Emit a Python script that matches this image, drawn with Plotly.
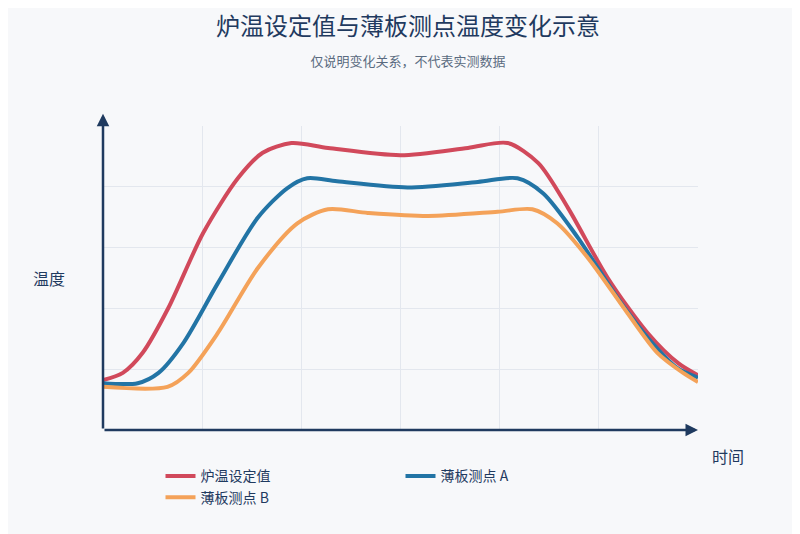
import plotly.graph_objects as go

x_red = [0, 2.0, 4.0, 6.6, 10.1, 13.6, 16.1, 19.0, 22.7, 30.0, 36.8, 40.8, 43.9, 46.9, 50.9, 54.9, 58.0, 60]
y_red = [8.2, 9.4, 12.7, 20.1, 32.4, 41.4, 45.6, 47.2, 46.4, 45.2, 46.4, 47.2, 43.9, 36.5, 25.0, 16.0, 11.0, 9.0]
x_blue = [0, 3.5, 5.6, 8.1, 11.6, 15.6, 18.6, 20.6, 23.6, 30.7, 37.8, 41.8, 44.4, 47.9, 51.9, 55.4, 57.9, 60]
y_blue = [7.7, 7.7, 9.4, 14.3, 24.2, 34.9, 39.8, 41.4, 40.9, 39.9, 40.8, 41.4, 38.9, 31.6, 21.7, 14.3, 10.2, 8.6]
x_org = [0, 6.5, 8.6, 11.6, 15.6, 19.6, 22.7, 26.7, 32.8, 39.8, 43.3, 45.8, 48.9, 52.9, 55.9, 58.5, 60]
y_org = [7.1, 7.1, 9.4, 16.0, 26.6, 34.0, 36.3, 35.7, 35.2, 35.9, 36.3, 34.0, 28.3, 19.2, 12.7, 9.4, 7.9]
names = ["炉温设定值", "薄板测点 A", "薄板测点 B"]
colors = ["#d1495b", "#2274a5", "#f4a259"]

font = "Noto Sans CJK SC"
fig = go.Figure()
for xs, ys, n, c in [(x_red, y_red, names[0], colors[0]), (x_blue, y_blue, names[1], colors[1]), (x_org, y_org, names[2], colors[2])]:
    fig.add_trace(go.Scatter(x=xs, y=ys, name=n, mode="lines",
                             line=dict(color=c, width=4, shape="spline", smoothing=0.8)))

fig.update_layout(
    width=800, height=534, paper_bgcolor="#f7f8fa", plot_bgcolor="#f7f8fa",
    margin=dict(l=95, r=110, t=118, b=112),
    font=dict(family=font, color="#1f3a5f"),
    title=dict(text="炉温设定值与薄板测点温度变化示意<br><span style='font-size:13px;color:#5a6b80'>仅说明变化关系，不代表实测数据</span>",
               x=0.5, y=0.95, xanchor="center", font=dict(size=24, color="#1f3a5f")),
    xaxis=dict(range=[0, 60], dtick=10, showticklabels=False, gridcolor="#e3e7ee", zeroline=False,
               showline=False),
    yaxis=dict(range=[0, 50], dtick=10, showticklabels=False, gridcolor="#e3e7ee", zeroline=False,
               showline=False),
    legend=dict(orientation="h", x=0.5, xanchor="center", y=-0.1, yanchor="top",
                entrywidth=195, font=dict(size=14, color="#1f3a5f")),
    showlegend=True,
)
fig.add_annotation(x=1, y=0, xref="x domain", yref="y domain", ax=0, ay=0, axref="x domain", ayref="y domain",
                   showarrow=True, arrowhead=2, arrowsize=1, arrowwidth=2.5, arrowcolor="#1f3a5f", text="")
fig.add_annotation(x=0, y=1.04, xref="x domain", yref="y domain", ax=0, ay=0, axref="x domain", ayref="y domain",
                   showarrow=True, arrowhead=2, arrowsize=1, arrowwidth=2.5, arrowcolor="#1f3a5f", text="")
fig.add_annotation(x=-0.06, y=0.5, xref="paper", yref="paper", text="温度", showarrow=False,
                   xanchor="right", font=dict(size=16, color="#1f3a5f"))
fig.add_annotation(x=1.02, y=-0.04, xref="paper", yref="paper", text="时间", showarrow=False,
                   xanchor="left", yanchor="top", font=dict(size=16, color="#1f3a5f"))
fig.write_html("out.html")
